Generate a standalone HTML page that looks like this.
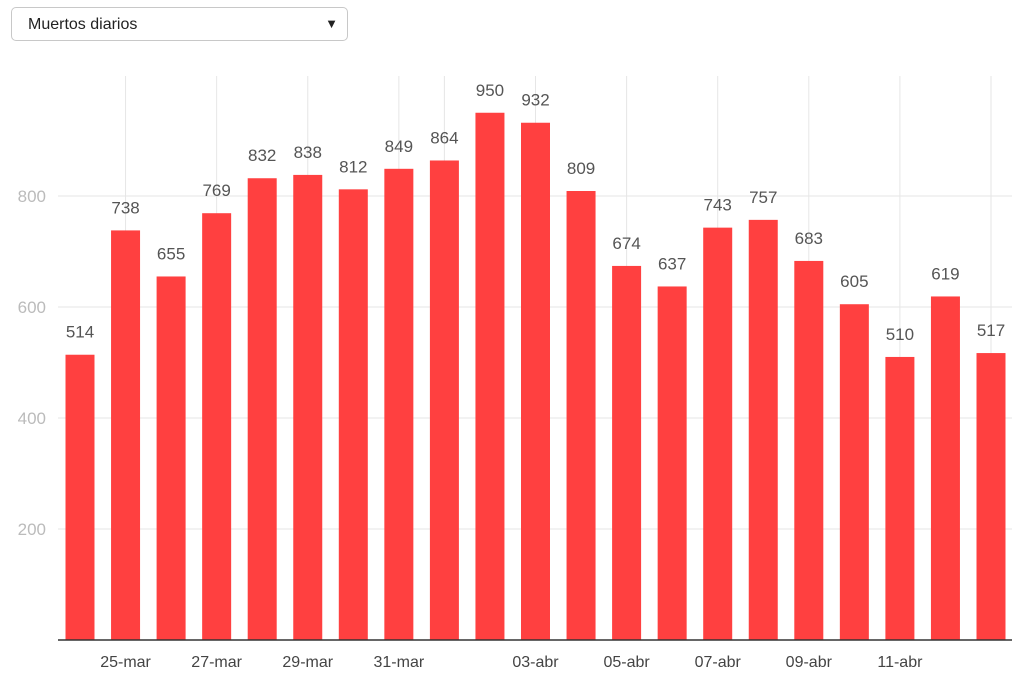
<!DOCTYPE html>
<html><head><meta charset="utf-8"><style>
body{margin:0;width:1024px;height:680px;background:#fff;font-family:"Liberation Sans",sans-serif;overflow:hidden}
.sel{position:absolute;left:11px;top:7px;width:337px;height:34px;border:1px solid #c8c8c8;border-radius:5px;box-sizing:border-box;font-size:16px;color:#222}
.sel span{position:absolute;left:16px;top:8px}
.sel b{position:absolute;right:9px;top:8px;font-size:13px}
svg{position:absolute;left:0;top:0}
</style></head><body>
<div class="sel"><span>Muertos diarios</span><b>▼</b></div>
<svg id="c" width="1024" height="680"></svg>
<script>
const categories=["24-mar","25-mar","26-mar","27-mar","28-mar","29-mar","30-mar","31-mar","01-abr","02-abr","03-abr","04-abr","05-abr","06-abr","07-abr","08-abr","09-abr","10-abr","11-abr","12-abr","13-abr"];
const values=[514,738,655,769,832,838,812,849,864,950,932,809,674,637,743,757,683,605,510,619,517];
const yTicks=[200,400,600,800];
const gridIdx=[1,3,5,7,8,10,12,14,16,18,20];
const xLabels=["25-mar","27-mar","29-mar","31-mar","","03-abr","05-abr","07-abr","09-abr","11-abr",""];
const svg=document.getElementById('c');const NS="http://www.w3.org/2000/svg";
const x=i=>80+i*(991-80)/(categories.length-1);
const y=v=>640-v*(444/800);
function mk(t,a,p){const e=document.createElementNS(NS,t);for(const k in a)e.setAttribute(k,a[k]);(p||svg).appendChild(e);return e;}
yTicks.forEach(t=>{
 const l=mk('line',{x1:58,x2:1012,y1:y(t),y2:y(t),stroke:'#e6e6e6'});
 
 
 const tx=mk('text',{x:46,y:y(t)+6,'text-anchor':'end','font-size':17,fill:'#bbb'});tx.textContent=t;
 
 
});
gridIdx.forEach((i,k)=>{
 const l=mk('line',{x1:x(i),x2:x(i),y1:76,y2:640,stroke:'#e6e6e6'});
 
 
 if(xLabels[k]){const t=mk('text',{x:x(i),y:667,'text-anchor':'middle','font-size':16,fill:'#444'});t.textContent=xLabels[k];
 
 }
});
values.forEach((v,i)=>{
 const r=mk('rect',{x:x(i)-14.5,y:y(v),width:29,height:640-y(v),fill:'#ff4040'});
 
 
 const t=mk('text',{x:x(i),y:y(v)-17,'text-anchor':'middle','font-size':17,fill:'#555'});t.textContent=v;
 
 
});
const b=mk('line',{x1:58,x2:1012,y1:640,y2:640,stroke:'#333','stroke-width':1.5});


</script>
</body></html>
